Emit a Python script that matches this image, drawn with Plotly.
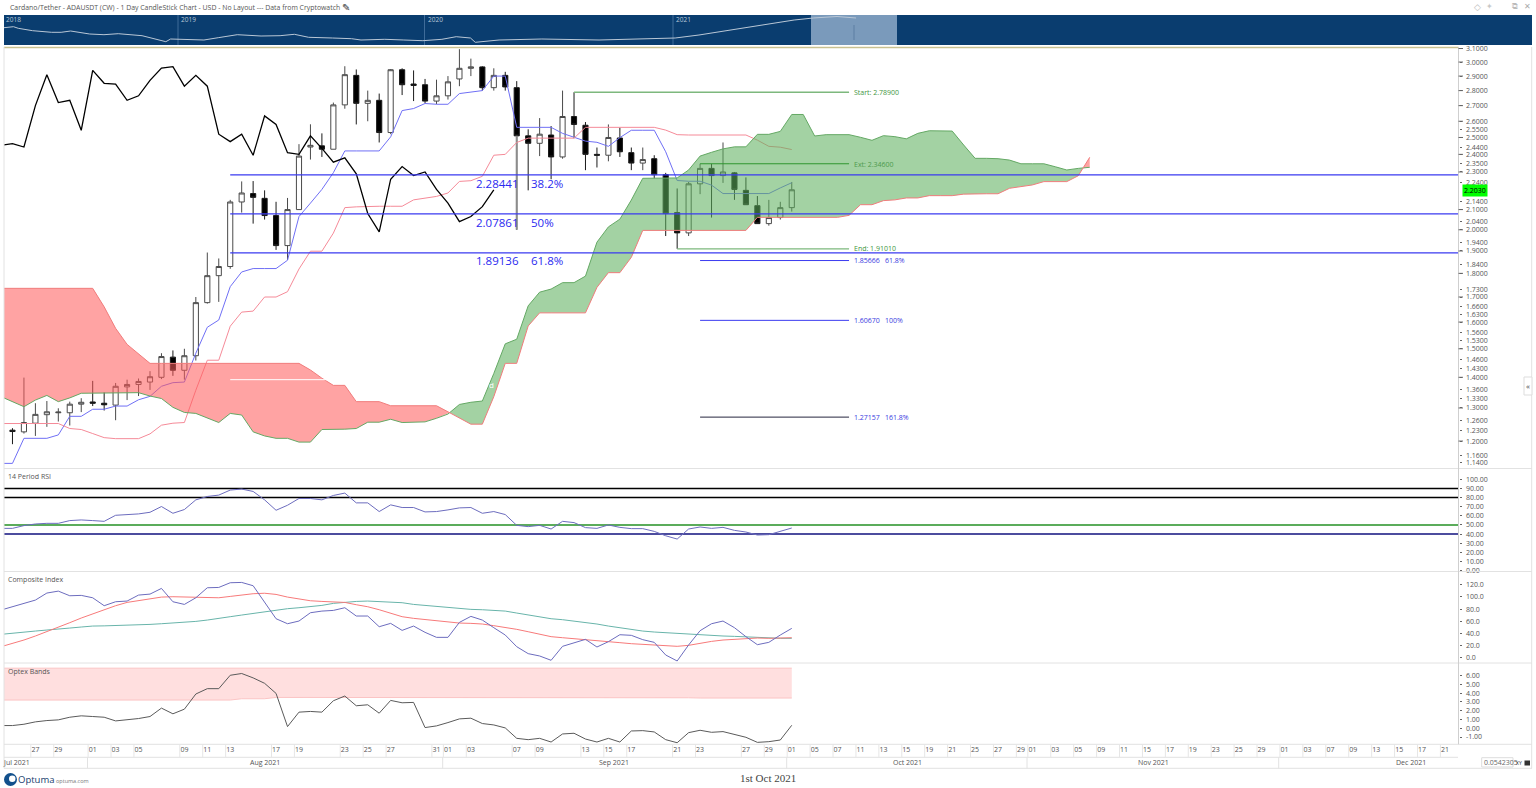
import plotly.graph_objects as go
import math

W, H = 1536, 788
FONT = "Open Sans"

# ---------- price bars (bar index 0 = 1 Aug 2021) ----------
bar_index = list(range(-8, 62))
open_ = [1.208,1.232,1.227,1.253,1.279,1.285,1.285,1.312,1.319,1.315,1.309,1.368,1.376,1.384,1.40,1.47,1.424,1.475,1.677,1.79,
 1.83,2.139,2.183,2.158,2.07,1.925,2.10,2.443,2.45,2.43,2.705,2.905,2.715,2.735,2.53,2.945,2.845,2.84,2.73,2.765,
 2.88,2.955,2.965,2.82,2.905,2.82,2.51,2.465,2.515,2.385,2.63,2.575,2.40,2.395,2.497,2.41,2.35,2.375,2.285,2.085,
 1.985,2.235,2.32,2.28,2.295,2.20,2.12,2.03,2.06,2.11]
high = [1.24,1.238,1.399,1.315,1.322,1.299,1.32,1.331,1.388,1.35,1.381,1.392,1.396,1.421,1.484,1.494,1.50,1.70,1.893,1.866,
 2.15,2.248,2.25,2.20,2.14,2.16,2.46,2.581,2.525,2.72,2.97,2.947,2.80,2.78,2.95,2.955,2.94,2.88,2.875,2.90,
 3.095,3.025,2.97,2.955,2.93,2.865,2.55,2.62,2.57,2.80,2.789,2.595,2.44,2.58,2.56,2.44,2.44,2.395,2.295,2.21,
 2.245,2.346,2.345,2.47,2.30,2.27,2.17,2.15,2.14,2.245]
low = [1.20,1.191,1.222,1.215,1.242,1.258,1.246,1.287,1.306,1.292,1.262,1.325,1.338,1.358,1.394,1.405,1.392,1.458,1.673,1.68,
 1.82,2.085,2.03,2.05,1.905,1.859,2.098,2.37,2.385,2.43,2.68,2.58,2.60,2.47,2.52,2.77,2.73,2.715,2.71,2.74,
 2.83,2.90,2.80,2.80,2.80,2.00,2.20,2.39,2.26,2.375,2.495,2.31,2.325,2.36,2.385,2.31,2.31,2.265,1.97,1.91,
 1.97,2.18,2.06,2.24,2.15,2.125,2.03,2.02,2.05,2.09]
close = [1.232,1.228,1.255,1.280,1.288,1.287,1.312,1.318,1.315,1.310,1.370,1.376,1.386,1.402,1.472,1.424,1.475,1.677,1.79,1.83,
 2.139,2.186,2.163,2.07,1.925,2.10,2.39,2.453,2.43,2.705,2.91,2.715,2.735,2.53,2.945,2.84,2.835,2.73,2.765,2.86,
 2.955,2.965,2.82,2.905,2.825,2.51,2.465,2.52,2.385,2.63,2.58,2.40,2.395,2.50,2.415,2.35,2.37,2.285,2.08,1.985,
 2.235,2.32,2.28,2.30,2.205,2.125,2.03,2.06,2.11,2.203]
long_wick_bar = 37
long_wick_range = [2.51, 2.00]

# ---------- Ichimoku ----------
tenkan = [1.137,1.137,1.208,1.208,1.208,1.218,1.274,1.274,1.296,1.296,1.306,1.306,1.326,1.337,1.370,1.382,1.384,1.484,1.58,1.608,
 1.743,1.806,1.821,1.821,1.821,1.858,2.065,2.133,2.205,2.296,2.42,2.42,2.42,2.42,2.504,2.668,2.681,2.714,2.709,2.709,
 2.78,2.79,2.80,2.90,2.90,2.562,2.562,2.562,2.562,2.525,2.499,2.478,2.471,2.447,2.499,2.544,2.544,2.544,2.415,2.253,
 2.249,2.249,2.228,2.183,2.183,2.183,2.183,2.183,2.213,2.241]
kijun = [1.252,1.252,1.252,1.252,1.252,1.252,1.237,1.234,1.222,1.210,1.207,1.207,1.207,1.221,1.247,1.253,1.255,1.357,1.459,1.459,
 1.584,1.639,1.643,1.70,1.70,1.722,1.819,1.899,1.899,1.984,2.11,2.114,2.117,2.117,2.117,2.117,2.15,2.159,2.168,2.186,
 2.248,2.252,2.276,2.395,2.40,2.47,2.496,2.496,2.496,2.496,2.496,2.562,2.562,2.562,2.562,2.562,2.562,2.562,2.545,2.517,
 2.515,2.515,2.515,2.515,2.515,2.515,2.484,2.447,2.442,2.428]
chikou_index = list(range(-8, 36))
chikou = [2.453,2.463,2.443,2.70,2.91,2.72,2.735,2.544,2.94,2.85,2.845,2.735,2.765,2.87,2.957,2.967,2.83,2.905,2.83,2.52,
 2.475,2.52,2.395,2.634,2.58,2.41,2.40,2.51,2.435,2.355,2.38,2.29,2.08,1.99,2.26,2.33,2.28,2.30,2.205,2.133,
 2.04,2.065,2.115,2.203]
cloud_index = list(range(-8, 88))
senkou_a = [1.336,1.32,1.304,1.325,1.34,1.32,1.332,1.347,
 1.347,1.347,1.347,1.349,1.349,1.338,1.33,1.302,1.286,1.283,
 1.268,1.255,1.283,1.278,1.227,1.215,1.208,1.208,1.197,1.197,
 1.234,1.234,1.235,1.237,1.256,1.256,1.265,1.255,1.257,1.257,
 1.268,1.281,1.311,1.318,1.322,1.413,1.518,1.535,1.664,1.72,
 1.733,1.76,1.76,1.788,1.941,2.014,2.052,2.149,2.265,2.267,
 2.267,2.267,2.311,2.39,2.412,2.432,2.444,2.444,2.519,2.519,
 2.537,2.643,2.643,2.509,2.517,2.517,2.517,2.501,2.483,2.511,
 2.505,2.492,2.525,2.541,2.541,2.539,2.455,2.377,2.377,2.375,
 2.367,2.346,2.346,2.346,2.329,2.311,2.32,2.326]
senkou_b = [1.736,1.736,1.736,1.736,1.736,1.736,1.736,1.736,
 1.736,1.66,1.576,1.516,1.48,1.448,1.448,1.448,1.448,1.448,
 1.448,1.448,1.448,1.448,1.448,1.448,1.448,1.448,1.448,1.425,
 1.397,1.373,1.373,1.32,1.32,1.32,1.307,1.307,1.307,1.307,
 1.307,1.288,1.268,1.25,1.25,1.336,1.448,1.448,1.585,1.636,
 1.636,1.636,1.636,1.636,1.74,1.803,1.803,1.871,1.997,1.997,
 1.997,1.997,1.997,1.997,1.997,1.997,1.997,1.997,2.061,2.061,
 2.061,2.061,2.061,2.061,2.061,2.061,2.071,2.125,2.125,2.146,
 2.15,2.16,2.16,2.172,2.172,2.172,2.18,2.182,2.182,2.182,
 2.211,2.22,2.229,2.247,2.247,2.247,2.279,2.383]

# ---------- fib levels ----------
retrace_levels = [2.28441, 2.07861, 1.89136]
retrace_pct = ["38.2%", "50%", "61.8%"]
swing_start, swing_ext, swing_end = 2.789, 2.346, 1.9101
project_levels = [1.85666, 1.6067, 1.27157]
project_pct = ["61.8%", "100%", "161.8%"]
hidden_level = 1.392

# ---------- lower panels ----------
rsi = [46.3,46.3,49.3,51.1,51.8,51.8,54.8,55.5,54.8,54,60.6,61.4,62.1,63.9,70.2,62.8,66.9,77.5,81.2,82.7,
 88.2,89.3,86.7,77.5,66.1,71.6,79,79,77.5,82.3,84.9,74.2,74.2,64.7,72,69.1,69.1,64.3,64.7,66.5,
 68.7,69.1,62.8,64.7,61.4,49.6,48.2,49.6,45.6,54,52.6,47.1,46.3,50,47.4,46,46,43,38.2,34.6,
 45.6,47.8,46.3,47.4,44.1,42.3,39,39.4,42.7,46.7]
rsi_levels = [90, 80, 50, 40]
composite = [78.5,83.9,90.5,94.8,106.3,109.5,101.9,102.5,98.6,85.6,92.1,93.2,103,104.6,113.9,92.1,87.7,98.6,115,115.5,
 123.2,123.7,118.3,92.1,64.3,56.1,60.5,74.1,76.8,77.9,82.3,68.7,68.7,51.2,56.7,45.2,52.3,42,33.8,33.8,
 58.3,68.1,62.1,49.6,37.6,18.5,7.1,3.3,-3.8,19.1,24.5,30.5,18,26.7,38.1,37.1,30,25.6,4.9,-4.9,
 21.3,44.7,56.1,60.5,49.6,34.9,21.8,25.6,37.6,48.5]
composite_fast = [18.5,23.4,29.4,36,43,50.1,57.8,65.4,72.5,79.6,85.6,91,94.3,96.5,99.7,100.3,100,99.2,98.6,98.6,
 100.8,103,105.2,106,104.1,99.7,96.5,93.7,92.6,92.1,91,87.2,83.9,79,73.6,67.6,64.9,62.7,61,59.4,
 57.2,56.7,55.6,52.9,50.1,46.9,43,38.7,34.9,33.2,31.6,31.1,29.4,27.2,25.1,23.4,22.3,21.3,19.6,19.1,
 20.7,24.5,27.2,29.4,30.5,32.2,32.7,32.2,32.7,33.2]
composite_slow = [38.7,40.9,42.5,44.1,45.8,48,49,50.7,52.3,52.6,52.9,53.4,54,55,56.1,57.2,58.3,59.9,62.1,64.3,
 67.6,70.3,73,76.3,79,80.7,82.3,83.9,86.1,89.4,91.6,92.6,93.2,92.6,91.6,90.5,87.7,86.1,84.5,82.3,
 80.7,79.6,79,77.9,76.8,73.6,70.3,67,64.3,62.7,60.5,58.3,55.6,52.3,49.6,46.3,44.1,42.5,41.4,39.8,
 38.1,37.1,36.5,36,35.4,34.3,33.2,32.7,32.2,32.2]
optex = [.31,.31,.46,.73,.88,.96,1.26,1.42,1.34,1.26,.84,.96,1.11,1.34,2.3,1.65,2.18,3.91,4.52,4.52,
 6.05,6.25,5.75,5.13,3.98,.19,1.84,1.92,1.84,3.14,3.68,2.57,2.68,1.72,3.18,2.91,2.95,.08,.27,.65,
 1.07,1.15,.54,.38,.04,-1.15,-1.3,-1.15,-1.57,-.65,-.57,-1.23,-1.57,-1.15,-1.57,-.31,-.27,-.42,-1.3,-1.65,
 -.5,-.23,-.46,-.38,-.69,-1.03,-1.61,-1.53,-1.34,.34]
optex_upper = [6.86,6.86,6.86,6.86,6.86,6.86,6.86,6.86,6.86,6.86,6.86,6.86,6.86,6.86,6.86,6.86,6.86,6.86,6.86,6.86,
 6.86,6.86,6.86,6.86,6.86,6.86,6.86,6.86,6.86,6.86,6.86,6.86,6.86,6.86,6.86,6.86,6.86,6.86,6.86,6.86,
 6.86,6.86,6.86,6.86,6.86,6.86,6.86,6.86,6.86,6.86,6.86,6.86,6.86,6.86,6.86,6.86,6.86,6.86,6.86,6.86,
 6.86,6.86,6.86,6.86,6.86,6.86,6.86,6.86,6.86,6.86]
optex_lower = [3.22,3.22,3.22,3.22,3.22,3.22,3.22,3.22,3.22,3.22,3.22,3.22,3.22,3.22,3.22,3.22,3.18,3.18,3.18,3.18,
 3.22,3.37,3.37,3.37,3.52,3.52,3.52,3.52,3.48,3.48,3.48,3.48,3.56,3.56,3.56,3.56,3.56,3.56,3.56,3.56,
 3.56,3.56,3.56,3.56,3.56,3.56,3.56,3.56,3.56,3.56,3.56,3.56,3.56,3.56,3.56,3.56,3.56,3.56,3.56,3.48,
 3.48,3.45,3.45,3.45,3.45,3.45,3.45,3.45,3.45,3.45]

# ---------- overview strip ----------
overview_week = [0,2,3,6,10,12,14,18,21,24,29,31,34,35,38,42,45,49,54,58,61,64,69,73,75,80,84,88,92,95,98,99,104,113,125,136,141,146,153,159,166,170,175,179]
overview_val = [17.3,18.3,16.7,14.3,12.7,12.7,14,11,10.3,11.3,9.3,6.7,3.3,6,5.7,5,7.3,10.3,9,9.3,10.7,7.7,7,6.3,5,5.7,5,4.3,5.7,8.3,7,2.7,5,6,5,6,7,10,15,20,25,27,28.5,27]
overview_years = ["2018", "2019", "2020", "2021"]

# ---------- axis labels ----------
price_ticks = [3.1,3.0,2.9,2.8,2.7,2.6,2.55,2.5,2.44,2.4,2.35,2.3,2.24,2.14,2.1,2.04,2.0,1.94,1.9,1.84,1.8,1.73,1.7,1.66,1.63,1.6,1.56,1.53,1.5,1.46,1.43,1.4,1.36,1.33,1.3,1.26,1.23,1.2,1.16,1.14]
price_major = [3.1,3.0,2.9,2.8,2.7,2.6,2.5,2.4,2.3,2.1,2.0,1.9,1.8,1.7,1.6,1.5,1.4,1.3,1.2]
last_price = 2.2030
rsi_ticks = [100,90,80,70,60,50,40,30,20,10,0]
composite_ticks = [120,100,80,60,40,20,0]
optex_ticks = [6,5,4,3,2,1,0,-1]
date_ticks = [-5,-3,0,2,4,8,10,12,16,18,22,24,26,30,31,33,37,39,43,45,47,51,53,57,59,61,63,65,67,69,71,73,75,77,79,81,82,84,86,88,90,92,94,96,98,100,102,104,106,108,110,112,114,116,118]
date_text = ["27","29","01","03","05","09","11","13","17","19","23","25","27","31","01","03","07","09","13","15","17","21","23","27","29","01","05","07","11","13","15","19","21","25","27","29","01","03","05","09","11","15","17","19","23","25","29","01","03","07","09","13","15","17","21"]
month_text = ["Jul 2021", "Aug 2021", "Sep 2021", "Oct 2021", "Nov 2021", "Dec 2021"]
title_text = "Cardano/Tether - ADAUSDT (CW) - 1 Day CandleStick Chart - USD - No Layout --- Data from Cryptowatch"

# ---------- helpers ----------
def xp(px): return px / W
def yp(py): return 1 - py / H
def dom(top, bottom): return [yp(bottom), yp(top)]

def T(text, px, py, size=7, color="#555555", anchor="left", font=FONT, **kw):
    if anchor == "left":
        px -= 1.5
    return dict(text=text, xref="paper", yref="paper", x=xp(px), y=yp(py), xanchor=anchor, yanchor="middle",
                showarrow=False, font=dict(size=size, color=color, family=font), **kw)

def hline(px0, py0, px1, py1, color="#E2E2E2", width=1, layer="above"):
    return dict(type="line", xref="paper", yref="paper", x0=xp(px0), y0=yp(py0), x1=xp(px1), y1=yp(py1),
                line=dict(color=color, width=width), layer=layer)

def line_trace(x, y, color, width=1, xa="x", ya="y"):
    return go.Scatter(x=x, y=y, mode="lines", line=dict(color=color, width=width), xaxis=xa, yaxis=ya,
                      hoverinfo="skip", showlegend=False)

# split the cloud where the two spans swap over, so each colour closes cleanly
cx, ca, cb = [], [], []
for i, x in enumerate(cloud_index):
    cx.append(x); ca.append(senkou_a[i]); cb.append(senkou_b[i])
    if i + 1 < len(cloud_index):
        d0, d1 = senkou_a[i] - senkou_b[i], senkou_a[i + 1] - senkou_b[i + 1]
        if d0 * d1 < 0:
            t = d0 / (d0 - d1)
            v = senkou_a[i] + t * (senkou_a[i + 1] - senkou_a[i])
            cx.append(x + t); ca.append(v); cb.append(v)
ctop = [max(a, b) for a, b in zip(ca, cb)]

LEFT, RIGHT = (4 - 92.7) / 11.46, (1458.5 - 92.7) / 11.46
fig = go.Figure()

# candles sit under the cloud
fig.add_trace(go.Candlestick(x=bar_index, open=open_, high=high, low=low, close=close,
    increasing=dict(line=dict(color="#4a4a4a", width=1), fillcolor="#FFFFFF"),
    decreasing=dict(line=dict(color="#1a1a1a", width=1), fillcolor="#000000"),
    whiskerwidth=0, hoverinfo="skip", showlegend=False, xaxis="x", yaxis="y"))
fig.add_trace(line_trace([long_wick_bar, long_wick_bar], long_wick_range, "#8C8C8C", 2))
fig.add_trace(line_trace(bar_index, tenkan, "#6F6FF5"))
fig.add_trace(line_trace(bar_index, kijun, "#F58A98"))
fig.add_trace(line_trace(chikou_index, chikou, "#000000", 1.3))

RED_FILL, GREEN_FILL = "rgba(255,91,91,0.56)", "rgba(93,176,93,0.57)"
fig.add_trace(go.Scatter(x=cx, y=ca, mode="lines", line=dict(width=0), hoverinfo="skip", showlegend=False))
fig.add_trace(go.Scatter(x=cx, y=ctop, mode="lines", line=dict(width=0), fill="tonexty", fillcolor=RED_FILL, hoverinfo="skip", showlegend=False))
fig.add_trace(go.Scatter(x=cx, y=cb, mode="lines", line=dict(width=0), hoverinfo="skip", showlegend=False))
fig.add_trace(go.Scatter(x=cx, y=ctop, mode="lines", line=dict(width=0), fill="tonexty", fillcolor=GREEN_FILL, hoverinfo="skip", showlegend=False))
fig.add_trace(line_trace(cloud_index, senkou_a, "#64A864"))
fig.add_trace(line_trace(cloud_index, senkou_b, "#F07C7C"))

# fib tools
fig.add_trace(line_trace([12, 34], [hidden_level, hidden_level], "#FFFFFF"))
for lvl in retrace_levels:
    fig.add_trace(line_trace([12, RIGHT], [lvl, lvl], "#3A3AF0", 1.2))
fig.add_trace(line_trace([42, 66], [swing_start, swing_start], "#7DB87D", 1.3))
fig.add_trace(line_trace([53, 66], [swing_ext, swing_ext], "#2F962F", 1.2))
fig.add_trace(line_trace([51, 66], [swing_end, swing_end], "#7DB87D", 1.3))
for lvl, c in zip(project_levels, ["#3A3AF0", "#3A3AF0", "#26263F"]):
    fig.add_trace(line_trace([53, 66], [lvl, lvl], c, 1))

# RSI
for lvl, c in zip(rsi_levels, ["#000000", "#000000", "#249024", "#10107E"]):
    fig.add_trace(line_trace([LEFT, RIGHT], [lvl, lvl], c, 1.5, "x2", "y2"))
fig.add_trace(line_trace(bar_index, rsi, "#6C6CBE", 1, "x2", "y2"))
# Composite
fig.add_trace(line_trace(bar_index, composite_slow, "#68B4AA", 1, "x3", "y3"))
fig.add_trace(line_trace(bar_index, composite_fast, "#F77A7A", 1, "x3", "y3"))
fig.add_trace(line_trace(bar_index, composite, "#6C6CBE", 1, "x3", "y3"))
# Optex
fig.add_trace(line_trace(bar_index, optex_lower, "#FBC4C4", 1, "x4", "y4"))
fig.add_trace(go.Scatter(x=bar_index, y=optex_upper, mode="lines", line=dict(width=1, color="#FBC4C4"), fill="tonexty",
                         fillcolor="#FFDFDF", xaxis="x4", yaxis="y4", hoverinfo="skip", showlegend=False))
fig.add_trace(line_trace(bar_index, optex, "#5A5A5A", 1, "x4", "y4"))
# Overview
fig.add_trace(line_trace(overview_week, overview_val, "#B9C7D6", 1, "x5", "y5"))

# ---------- annotations ----------
ann = [T(title_text, 9, 7.5, 6.9, "#555555"),
       T("✎", 341, 7, 10, "#333333"),
       T("◇", 1477, 7, 9, "#BBBBBB", "center", "DejaVu Sans"),
       T("✦", 1489, 7, 8, "#C8C8C8", "center", "DejaVu Sans"),
       T("⧉", 1515, 7, 8, "#BBBBBB", "center", "DejaVu Sans"),
       T("✕", 1527, 7, 8, "#AAAAAA", "center", "DejaVu Sans"),
       T("14 Period RSI", 7.5, 476.5), T("Composite Index", 7.5, 579.5), T("Optex Bands", 7.5, 671),
       T("d", 491, 385, 8, "#FFFFFF", "center"),
       T("Start: "+f"{swing_start:.5f}", 853, 92.5, 7, "#3E963E"),
       T("Ext: "+f"{swing_ext:.5f}", 853, 164, 7, "#4E9A4E"),
       T("End: "+f"{swing_end:.5f}", 853, 248.5, 7, "#3E963E"),
       T("1st Oct 2021", 768, 778, 11, "#444444", "center", "Liberation Serif"),
       T("Optuma", 17, 779.5, 9.5, "#17406E", "left", "Open Sans"),
       T("optuma.com", 55, 780.5, 5.5, "#777777"),
       T("0.0542305", 1483, 762.5, 7, "#666666"),
       T("XY", 1519, 762.5, 5, "#333333", "center"),
       T("«", 1528, 385.5, 8, "#444444", "center"),
       T(f"{last_price:.4f}", 1475.3, 190.2, 7, "#000000", "center", bgcolor="#00FF00", borderpad=1)]
for lvl, pct, py in zip(retrace_levels, retrace_pct, [183, 222, 260.7]):
    ann.append(T(f"{lvl:.5f}", 475, py, 11.5, "#2A2AF0"))
    ann.append(T(pct, 530, py, 11.5, "#2A2AF0"))
for lvl, pct, py in zip(project_levels, project_pct, [260.5, 320.5, 417.5]):
    ann.append(T(f"{lvl:.5f}", 853, py, 7, "#3A3AE0"))
    ann.append(T(pct, 884, py, 7, "#3A3AE0"))
for txt, px in zip(month_text, [16.5, 265, 614, 907, 1153, 1411]):
    ann.append(T(txt, px, 762.5, 7, "#555555", "center"))
for txt, px in zip(overview_years, [5, 180, 427, 675]):
    ann.append(T(txt, px, 19, 6.5, "#B8C8D8"))

# ---------- frame ----------
shapes = [
    dict(type="rect", xref="paper", yref="paper", x0=xp(4), x1=xp(1532), y0=yp(45), y1=yp(15), fillcolor="#0A3D6F", line=dict(width=0), layer="below"),
    dict(type="rect", xref="paper", yref="paper", x0=xp(811), x1=xp(897), y0=yp(45), y1=yp(15), fillcolor="#7A9ABB", line=dict(width=0), layer="below"),
    hline(4, 47.5, 1458.5, 47.5, "#C9C190", 1.4),
    hline(4, 468.5, 1532, 468.5), hline(4, 571.5, 1532, 571.5), hline(4, 663, 1532, 663),
    hline(4, 744.3, 1532, 744.3), hline(4, 757.3, 1458, 757.3), hline(4, 768.3, 1532, 768.3),
    hline(4, 47, 4, 768.3), hline(1458.5, 47, 1458.5, 744.3, "#CFCFCF"), hline(1531.7, 47, 1531.7, 768.3),
    dict(type="rect", xref="paper", yref="paper", x0=xp(1524), x1=xp(1532), y0=yp(395), y1=yp(377), fillcolor="#FFFFFF", line=dict(color="#DDDDDD", width=1)),
    dict(type="rect", xref="paper", yref="paper", x0=xp(1481.7), x1=xp(1513), y0=yp(767), y1=yp(757.7), fillcolor="rgba(0,0,0,0)", line=dict(color="#DDDDDD", width=1)),
    dict(type="rect", xref="paper", yref="paper", x0=xp(1524.5), x1=xp(1530), y0=yp(765.5), y1=yp(760.5), fillcolor="#333333", line=dict(width=0)),
    dict(type="circle", xref="paper", yref="paper", x0=xp(4), x1=xp(17), y0=yp(786), y1=yp(773), fillcolor="#12508C", line=dict(width=0)),
    dict(type="circle", xref="paper", yref="paper", x0=xp(9), x1=xp(15.5), y0=yp(782), y1=yp(775.5), fillcolor="#FFFFFF", line=dict(width=0)),
]
for px in [178, 424.5, 673]:
    shapes.append(hline(px, 15, px, 45, "#3F6C99", 1, "below"))
shapes.append(hline(854, 25, 854, 40, "#5C7FA3", 1))
for px in [87.5, 442.7, 786.7, 1027, 1278.7]:
    shapes.append(hline(px, 757.3, px, 768.3))
for v in date_ticks:
    shapes.append(dict(type="line", xref="x4", yref="paper", x0=v - 0.4, x1=v - 0.4, y0=yp(744.3), y1=yp(757.3),
                       line=dict(color="#E6E6E6", width=1)))
for v in price_major:
    shapes.append(dict(type="line", xref="paper", yref="y", x0=xp(1458.5), x1=xp(1463), y0=v, y1=v,
                       line=dict(color="#666666", width=1)))

XDOM = [xp(4), xp(1458.5)]
def xax(**kw):
    base = dict(domain=XDOM, range=[LEFT, RIGHT], showgrid=False, zeroline=False, showline=False,
                showticklabels=False, ticks="", fixedrange=True)
    base.update(kw)
    return base
def yax(rng, dom_, vals, texts, **kw):
    base = dict(domain=dom_, range=rng, side="right", showgrid=False, zeroline=False, showline=False,
                tickmode="array", tickvals=vals, ticktext=texts, ticks="outside", ticklen=2, tickcolor="#666666",
                tickfont=dict(size=7, color="#555555", family=FONT), ticklabelstandoff=3, fixedrange=True)
    base.update(kw)
    return base

fig.update_layout(
    width=W, height=H, autosize=False, margin=dict(l=0, r=0, t=0, b=0, pad=0, autoexpand=False),
    paper_bgcolor="#FFFFFF", plot_bgcolor="rgba(0,0,0,0)", showlegend=False, boxgap=0.36,
    font=dict(family=FONT, size=7, color="#555555"),
    annotations=ann, shapes=shapes,
    xaxis=xax(anchor="y", rangeslider=dict(visible=False)),
    yaxis=yax([math.log10(1.123), math.log10(3.1075)], dom(47.5, 468.5), price_ticks, [f"{v:.4f}" for v in price_ticks], type="log", anchor="x"),
    xaxis2=xax(anchor="y2"),
    yaxis2=yax([-0.9, 111.8], dom(468.5, 571.5), rsi_ticks, [f"{v:.2f}" for v in rsi_ticks], anchor="x2"),
    xaxis3=xax(anchor="y3"),
    yaxis3=yax([-8.2, 141.6], dom(571.5, 663), composite_ticks, [f"{v:.1f}" for v in composite_ticks], anchor="x3"),
    xaxis4=xax(anchor="y4", showticklabels=True, tickmode="array", tickvals=date_ticks, ticktext=date_text,
               tickfont=dict(size=7, color="#555555", family=FONT), side="bottom"),
    yaxis4=yax([-1.83, 7.45], dom(663, 744.3), optex_ticks, [f"{v:.2f}" for v in optex_ticks], anchor="x4"),
    xaxis5=dict(domain=[xp(4), xp(1532)], range=[0, 321], visible=False, fixedrange=True, anchor="y5"),
    yaxis5=dict(domain=dom(15, 45), range=[0, 30], visible=False, fixedrange=True, anchor="x5"),
)
fig.write_html("out.html", config={"displayModeBar": False},
               post_script="document.body.style.margin='0';document.body.style.overflow='hidden';")
